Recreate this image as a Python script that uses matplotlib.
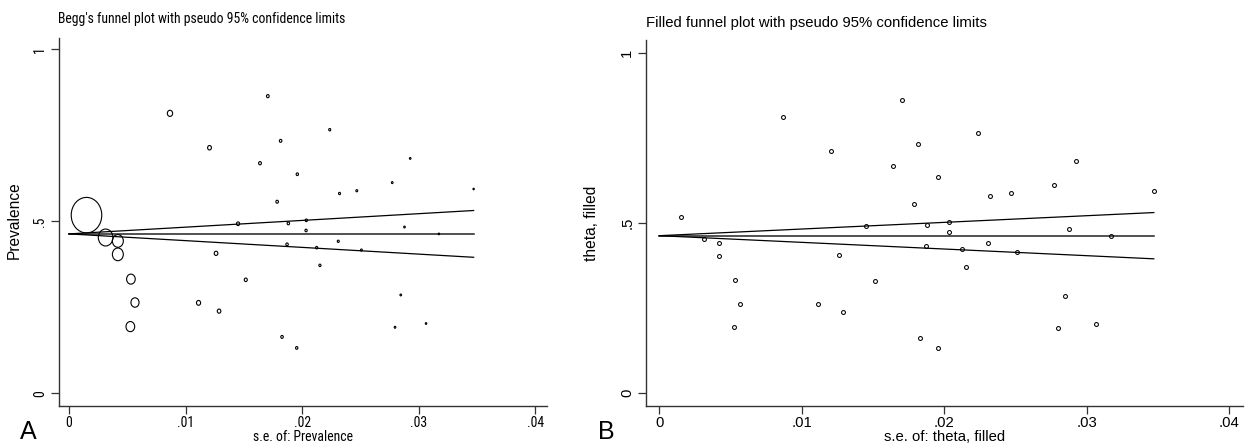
import numpy as np
import matplotlib
matplotlib.use("Agg")
import matplotlib.pyplot as plt
from matplotlib.path import Path
from matplotlib.markers import MarkerStyle
from matplotlib import font_manager
from matplotlib.font_manager import FontProperties

# ---------------- data ----------------
se = [0.0015, 0.00314, 0.00419, 0.00419, 0.00531, 0.00566, 0.00526, 0.00866,
      0.01111, 0.01205, 0.01261, 0.01287, 0.0145, 0.01516, 0.01638, 0.01705,
      0.01785, 0.01815, 0.01827, 0.0187, 0.01881, 0.01953, 0.01958, 0.02033,
      0.02035, 0.02124, 0.02152, 0.02236, 0.02309, 0.0232, 0.02468, 0.02508,
      0.02772, 0.02796, 0.02845, 0.02877, 0.02926, 0.03062, 0.03172, 0.0347]
prevalence = [0.518, 0.453, 0.443, 0.404, 0.332, 0.264, 0.194, 0.814,
              0.263, 0.714, 0.407, 0.239, 0.493, 0.330, 0.669, 0.864,
              0.557, 0.734, 0.164, 0.433, 0.494, 0.132, 0.637, 0.4735,
              0.503, 0.4235, 0.372, 0.7665, 0.442, 0.581, 0.589, 0.4165,
              0.6126, 0.192, 0.286, 0.4835, 0.683, 0.203, 0.4635, 0.594]
theta_pooled = 0.4635
xticks = [0, 0.01, 0.02, 0.03, 0.04]
xticklabels = ["0", ".01", ".02", ".03", ".04"]
yticks = [0, 0.5, 1]
yticklabels = ["0", ".5", "1"]

se = np.array(se)
prevalence = np.array(prevalence)

# ---------------- fonts ----------------
BASE = 10.7
A_SIZE = 9.9
def find_narrow():
    files = [f.fname for f in font_manager.fontManager.ttflist]
    prefs = ["LiberationSansNarrow-Regular", "Arial Narrow", "ArialNarrow",
             "RobotoCondensed-Regular", "Roboto_Condensed", "OpenSans_Condensed-Regular",
             "OpenSansCondensed"]
    for p in prefs:
        for f in files:
            if p.lower() in f.lower() and "bold" not in f.lower() and "italic" not in f.lower():
                return f
    return None

nf = find_narrow()
if nf is not None:
    def fpA(size):
        return FontProperties(fname=nf, size=size)
else:
    def fpA(size):
        return FontProperties(family="Liberation Sans", size=size * 0.85)

def fpB(size):
    return FontProperties(family="Liberation Sans", size=size)

fig = plt.figure(figsize=(12.45, 4.47), dpi=100)

def style_axes(ax, fp, xlim, ylim):
    ax.set_xlim(*xlim)
    ax.set_ylim(*ylim)
    for s in ["top", "right"]:
        ax.spines[s].set_visible(False)
    for s in ["left", "bottom"]:
        ax.spines[s].set_color("#333333")
        ax.spines[s].set_linewidth(1.0)
    ax.set_xticks(xticks)
    ax.set_xticklabels(xticklabels, fontproperties=fp)
    ax.set_yticks(yticks)
    ax.set_yticklabels(yticklabels, fontproperties=fp, rotation=90,
                       va="center", ha="right")
    ax.tick_params(axis="x", direction="out", length=5.5, width=0.9, color="#333333", pad=2)
    ax.tick_params(axis="y", direction="out", length=5.5, width=0.9, color="#333333", pad=3)

def funnel_lines(ax):
    smax = se.max()
    xs = np.array([0, smax])
    ax.plot(xs, [theta_pooled, theta_pooled], color="#222222", lw=1.1, zorder=2)
    ax.plot(xs, theta_pooled + 1.96 * xs, color="black", lw=0.9, zorder=2)
    ax.plot(xs, theta_pooled - 1.96 * xs, color="black", lw=0.9, zorder=2)

# ---------------- Panel A ----------------
axA = fig.add_axes([0.04715, 0.0924, 0.3920, 0.8233])
style_axes(axA, fpA(A_SIZE), (-0.000883, 0.04097), (-0.036, 1.034))
funnel_lines(axA)
circ = Path.unit_circle()
ell = Path(circ.vertices * np.array([0.86, 1.0]), circ.codes)
d_pt = 0.72 * 36 * 0.00148 / se
axA.scatter(se, prevalence, s=d_pt ** 2, marker=MarkerStyle(ell),
            facecolors="none", edgecolors="black", linewidths=0.8, zorder=3)
fig.text(58.3 / 1245, 1 - 18.5 / 447, "Begg's funnel plot with pseudo 95% confidence limits",
         fontproperties=fpA(A_SIZE), ha="left", va="center")
fig.text(14.5 / 1245, 1 - 220 / 447, "Prevalence", fontproperties=fpB(11.2),
         rotation=90, ha="center", va="center")
fig.text(302.7 / 1245, 1 - 437 / 447, "s.e. of: Prevalence", fontproperties=fpA(A_SIZE),
         ha="center", va="center")
fig.text(28.7 / 1245, 1 - 431.7 / 447, "A", fontproperties=fpB(18),
         ha="center", va="center")

# ---------------- Panel B ----------------
axB = fig.add_axes([0.5189, 0.0917, 0.4795, 0.8188])
style_axes(axB, fpB(BASE), (-0.000933, 0.04096), (-0.0374, 1.039))
funnel_lines(axB)
axB.plot(se, prevalence, linestyle="none", marker="o", ms=2.8, mfc="none",
         mec="black", mew=0.75, zorder=3)
fig.text(646 / 1245, 1 - 22.5 / 447, "Filled funnel plot with pseudo 95% confidence limits",
         fontproperties=fpB(BASE), ha="left", va="center")
fig.text(591.7 / 1245, 1 - 223.3 / 447, "theta, filled", fontproperties=fpB(11.2),
         rotation=90, ha="center", va="center")
fig.text(944.5 / 1245, 1 - 437 / 447, "s.e. of: theta, filled", fontproperties=fpB(BASE),
         ha="center", va="center")
fig.text(606.3 / 1245, 1 - 431.7 / 447, "B", fontproperties=fpB(18),
         ha="center", va="center")

fig.savefig("out.png", dpi=100)
